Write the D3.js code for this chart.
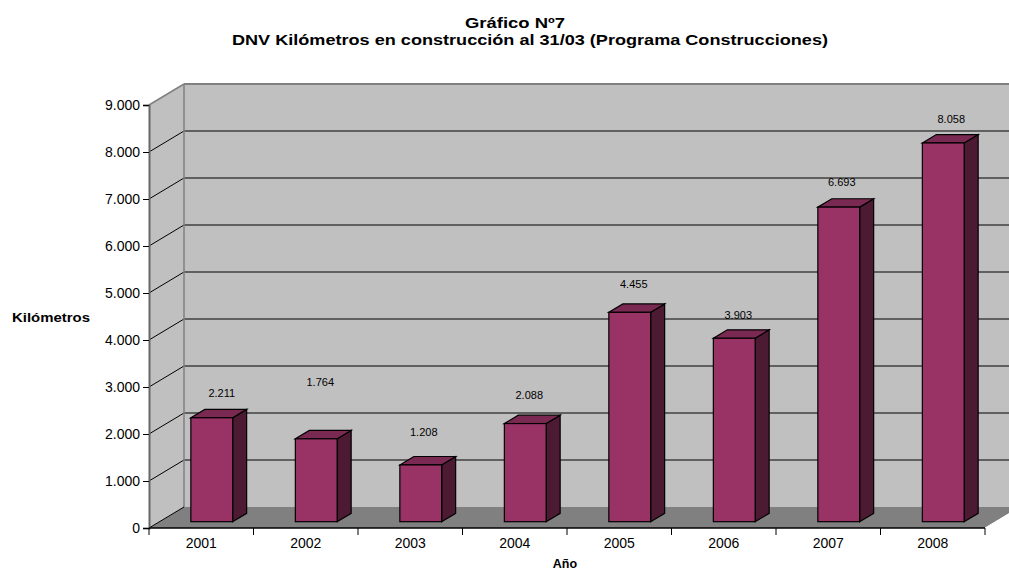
<!DOCTYPE html>
<html>
<head>
<meta charset="utf-8">
<script src="https://cdn.jsdelivr.net/npm/d3@7"></script>
<style>
  body { margin: 0; background: #fff; }
  text { font-family: "Liberation Sans", Arial, sans-serif; fill: #000; }
</style>
</head>
<body>
<svg id="chart" width="1009" height="570"></svg>
<script>
const years = ['2001', '2002', '2003', '2004', '2005', '2006', '2007', '2008'];
const kms = [2211, 1764, 1208, 2088, 4455, 3903, 6693, 8058];
const yTicks = [0, 1000, 2000, 3000, 4000, 5000, 6000, 7000, 8000, 9000];
// hand-placed data labels in the original, nudged from the bar top
const labelLift = [25, 57, 33, 29, 28, 23, 25, 24];
const labelShift = [10, 4, 3, 4, 4, 4, 3, 8];

const fmt = d3.formatLocale({ decimal: ',', thousands: '.', grouping: [3], currency: ['', ''] }).format(',d');

const svg = d3.select('#chart');
const plotL = 149, plotR = 985, plotB = 528, plotT = 105;
const depthX = 35, depthY = -21;   // wall depth
const barFront = 0.3, barBack = 0.7;  // bar inside the depth

const x = d3.scaleBand().domain(years).range([plotL, plotR]).paddingInner(0.6).paddingOuter(0.3);
const y = d3.scaleLinear().domain([0, 9000]).range([plotB, plotT]);

const wallColor = '#c0c0c0', floorColor = '#808080', edgeColor = '#808080';

// back wall
svg.append('rect')
  .attr('x', plotL + depthX).attr('y', plotT + depthY)
  .attr('width', 1009 - plotL - depthX).attr('height', plotB - plotT)
  .style('fill', wallColor);

// side wall
svg.append('polygon')
  .attr('points', [[plotL, y(9000)], [plotL + depthX, y(9000) + depthY], [plotL + depthX, y(0) + depthY], [plotL, y(0)]].join(' '))
  .style('fill', wallColor);

// floor
svg.append('polygon')
  .attr('points', [[plotL, y(0)], [plotR, y(0)], [plotR + depthX, y(0) + depthY], [plotL + depthX, y(0) + depthY]].join(' '))
  .style('fill', floorColor);

// gridlines
const grid = yTicks.filter(d => d > 0 && d < 9000);
svg.selectAll('line.gridback').data(grid).enter().append('line')
  .attr('class', 'gridback')
  .attr('x1', plotL + depthX).attr('x2', 1009)
  .attr('y1', d => y(d) + depthY).attr('y2', d => y(d) + depthY)
  .style('stroke', '#000').style('stroke-width', 1);
svg.selectAll('line.gridside').data(grid).enter().append('line')
  .attr('class', 'gridside')
  .attr('x1', plotL).attr('x2', plotL + depthX)
  .attr('y1', d => y(d)).attr('y2', d => y(d) + depthY)
  .style('stroke', '#000').style('stroke-width', 1);

// wall edges
svg.append('line')
  .attr('x1', plotL + depthX).attr('x2', 1009)
  .attr('y1', y(9000) + depthY).attr('y2', y(9000) + depthY)
  .style('stroke', edgeColor).style('stroke-width', 2);
svg.append('line')
  .attr('x1', plotL).attr('x2', plotL + depthX)
  .attr('y1', y(9000)).attr('y2', y(9000) + depthY)
  .style('stroke', edgeColor).style('stroke-width', 1.5);
svg.append('line')
  .attr('x1', plotL + depthX).attr('x2', plotL + depthX)
  .attr('y1', y(9000) + depthY).attr('y2', y(0) + depthY)
  .style('stroke', edgeColor).style('stroke-width', 1.5);
svg.append('line')
  .attr('x1', plotL).attr('x2', plotL + depthX)
  .attr('y1', y(0)).attr('y2', y(0) + depthY)
  .style('stroke', '#000').style('stroke-width', 1);
svg.append('line')
  .attr('x1', plotR).attr('x2', plotR + depthX)
  .attr('y1', y(0)).attr('y2', y(0) + depthY)
  .style('stroke', '#fff').style('stroke-width', 1);

// bars
const fx = barFront * depthX, fy = barFront * depthY;
const bx = (barBack - barFront) * depthX, by = (barBack - barFront) * depthY;
const bars = svg.selectAll('g.bar').data(years.map((yr, i) => ({ yr, v: kms[i], i }))).enter()
  .append('g').attr('class', 'bar');

bars.append('polygon') // side
  .attr('points', d => {
    const x1 = x(d.yr) + x.bandwidth() + fx, y0 = y(0) + fy, y1 = y(d.v) + fy;
    return [[x1, y1], [x1 + bx, y1 + by], [x1 + bx, y0 + by], [x1, y0]].join(' ');
  })
  .style('fill', '#4d1a33').style('stroke', '#000').style('stroke-width', 1.2);
bars.append('polygon') // top
  .attr('points', d => {
    const x0 = x(d.yr) + fx, x1 = x0 + x.bandwidth(), y1 = y(d.v) + fy;
    return [[x0, y1], [x0 + bx, y1 + by], [x1 + bx, y1 + by], [x1, y1]].join(' ');
  })
  .style('fill', '#7a2952').style('stroke', '#000').style('stroke-width', 1.2);
bars.append('rect') // front
  .attr('x', d => x(d.yr) + fx)
  .attr('y', d => y(d.v) + fy)
  .attr('width', x.bandwidth())
  .attr('height', d => y(0) - y(d.v))
  .style('fill', '#993366').style('stroke', '#000').style('stroke-width', 1.2);

bars.append('text')
  .attr('x', d => x(d.yr) + x.bandwidth() / 2 + fx + labelShift[d.i])
  .attr('y', d => y(d.v) + fy - labelLift[d.i] + 4)
  .attr('text-anchor', 'middle')
  .style('font-size', '11px')
  .text(d => fmt(d.v));

// y axis
svg.append('g')
  .attr('transform', `translate(${plotL},0)`)
  .call(d3.axisLeft(y).tickValues(yTicks).tickFormat(fmt).tickSize(6).tickPadding(3))
  .call(g => g.select('.domain').attr('stroke', '#666').attr('stroke-width', 2))
  .call(g => g.selectAll('text').style('font-size', '14px').attr('fill', '#000'));

// x axis
svg.append('g')
  .attr('transform', `translate(0,${plotB})`)
  .call(d3.axisBottom(x).tickSize(0).tickPadding(10))
  .call(g => g.select('.domain').remove())
  .call(g => g.selectAll('text').style('font-size', '14px').attr('fill', '#000'));
svg.append('line')
  .attr('x1', plotL).attr('x2', plotR).attr('y1', plotB).attr('y2', plotB)
  .style('stroke', '#000').style('stroke-width', 1.5);
svg.selectAll('line.xtick').data(d3.range(years.length + 1)).enter().append('line')
  .attr('class', 'xtick')
  .attr('x1', i => plotL + i * x.step()).attr('x2', i => plotL + i * x.step())
  .attr('y1', plotB).attr('y2', plotB + 7)
  .style('stroke', '#000');

// titles (the original text is slightly stretched sideways)
svg.append('text').attr('x', 515).attr('y', 28).attr('text-anchor', 'middle')
  .attr('textLength', 100).attr('lengthAdjust', 'spacingAndGlyphs')
  .style('font-size', '15px').style('font-weight', 'bold').text('Gráfico Nº7');
svg.append('text').attr('x', 530).attr('y', 45).attr('text-anchor', 'middle')
  .attr('textLength', 596).attr('lengthAdjust', 'spacingAndGlyphs')
  .style('font-size', '15px').style('font-weight', 'bold')
  .text('DNV Kilómetros en construcción al 31/03 (Programa Construcciones)');
svg.append('text').attr('x', 51).attr('y', 322).attr('text-anchor', 'middle')
  .attr('textLength', 78).attr('lengthAdjust', 'spacingAndGlyphs')
  .style('font-size', '12.5px').style('font-weight', 'bold').text('Kilómetros');
svg.append('text').attr('x', 565).attr('y', 568).attr('text-anchor', 'middle')
  .style('font-size', '12.5px').style('font-weight', 'bold').text('Año');
</script>
</body>
</html>
